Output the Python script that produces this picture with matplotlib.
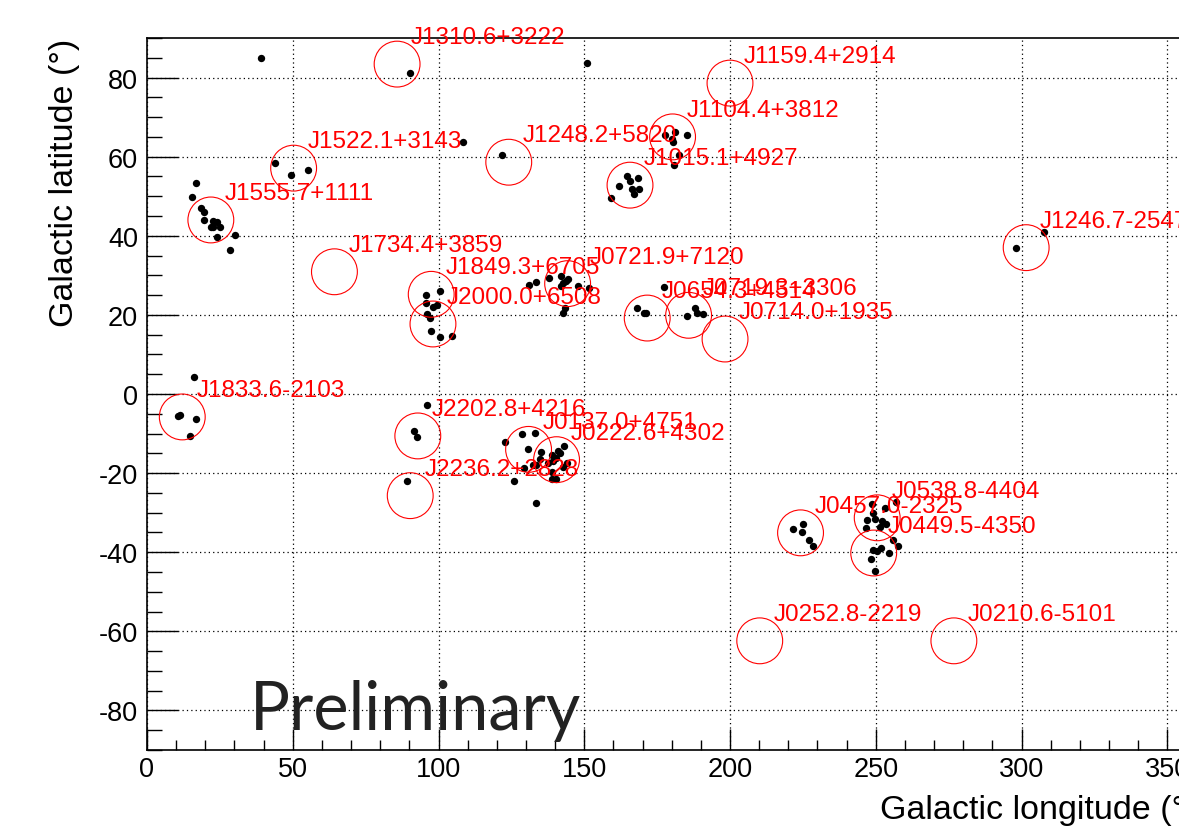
import matplotlib
matplotlib.use("Agg")
import matplotlib.pyplot as plt
from matplotlib.ticker import MultipleLocator

# source positions (galactic longitude, latitude in degrees)
src_names = ["J1310.6+3222", "J1159.4+2914", "J1104.4+3812", "J1522.1+3143",
             "J1248.2+5820", "J1015.1+4927", "J1555.7+1111", "J1246.7-2547",
             "J1734.4+3859", "J1849.3+6705", "J0721.9+7120", "J2000.0+6508",
             "J0654.3+4514", "J0719.3+3306", "J0714.0+1935", "J1833.6-2103",
             "J2202.8+4216", "J0137.0+4751", "J0222.6+4302", "J2236.2+2828",
             "J0538.8-4404", "J0457.0-2325", "J0449.5-4350", "J0252.8-2219",
             "J0210.6-5101"]
src_lon = [85.8, 200.0, 180.3, 50.3, 124.1, 165.7, 21.9, 301.6,
           64.3, 97.5, 144.3, 98.1, 171.6, 185.8, 198.3, 12.1,
           92.9, 130.9, 140.5, 90.3, 250.5, 224.2, 249.3, 210.2, 276.8]
src_lat = [83.4, 78.6, 65.0, 57.1, 58.6, 52.8, 44.0, 37.0,
           30.9, 25.2, 27.9, 17.7, 19.2, 19.9, 13.9, -5.8,
           -10.6, -14.0, -16.6, -25.7, -31.3, -35.1, -40.2, -62.4, -62.4]

# extra label shifts (deg) where the label sits further from its circle
label_nudge = {"J0721.9+7120": (2.7, 0.0)}

# events
dot_lon = [39.1, 90.2, 150.8, 108.3, 121.7, 43.9, 49.4, 55.3,
           16.7, 15.4, 18.4, 19.7, 19.7, 22.5, 23.9, 21.8, 22.7, 25.0, 23.9, 30.2, 28.5,
           95.7, 100.5, 95.7, 98.2, 99.4, 95.9, 97.1, 97.4, 100.5, 104.5,
           131.0, 133.6, 137.8, 142.1, 144.5, 143.6, 142.8, 141.9, 148.0, 151.6, 143.5, 142.8,
           177.2, 168.2, 170.6, 171.2, 185.1, 187.9, 188.6, 190.6,
           177.7, 181.1, 180.0, 180.6, 185.2, 182.5, 180.8,
           164.8, 168.6, 165.7, 162.0, 166.3, 168.7, 167.0, 159.1,
           298.1, 307.8,
           16.2, 10.7, 11.4, 16.7, 14.8,
           95.9, 91.6, 92.5, 89.1,
           122.8, 128.5, 133.1, 130.8, 135.2, 134.8, 138.8, 140.9, 141.7, 140.2, 139.4,
           143.2, 144.0, 142.8, 137.5, 132.3, 133.6, 129.3, 138.8, 138.8, 140.2, 126.0, 133.4,
           221.5, 225.2, 224.6, 227.0, 228.6,
           248.6, 253.2, 256.9, 248.9, 249.7, 247.1, 252.0, 253.5, 251.5, 246.7,
           256.0, 257.7, 249.2, 250.3, 251.7, 254.6, 248.4, 249.7]
dot_lat = [84.9, 81.1, 83.8, 63.6, 60.3, 58.5, 55.3, 56.7,
           53.4, 49.9, 46.9, 46.1, 44.0, 43.8, 43.6, 42.1, 42.3, 42.3, 39.8, 40.1, 36.5,
           25.1, 26.0, 23.1, 22.0, 22.4, 20.3, 19.1, 16.0, 14.5, 14.6,
           27.5, 28.2, 29.3, 29.9, 29.1, 28.5, 28.0, 27.2, 27.2, 26.7, 21.7, 20.5,
           27.0, 21.7, 20.5, 20.4, 19.6, 21.7, 20.6, 20.3,
           65.5, 66.3, 64.5, 63.6, 65.6, 60.3, 58.0,
           55.0, 54.5, 53.8, 52.5, 51.8, 51.8, 50.6, 49.5,
           37.0, 41.0,
           4.2, -5.6, -5.4, -6.2, -10.6,
           -2.8, -9.4, -10.8, -22.1,
           -12.1, -10.2, -9.8, -13.9, -14.6, -16.4, -15.4, -14.3, -14.9, -16.3, -16.9,
           -13.1, -17.4, -18.5, -17.4, -18.0, -18.0, -18.7, -19.8, -21.5, -21.5, -21.9, -27.6,
           -34.2, -32.9, -35.0, -36.9, -38.4,
           -27.8, -28.7, -27.2, -30.1, -31.5, -31.8, -32.0, -32.9, -33.5, -33.9,
           -36.8, -38.4, -39.4, -39.6, -39.0, -40.2, -41.6, -44.7]

plt.rcParams["font.family"] = ["Liberation Sans", "DejaVu Sans"]
plt.rcParams["axes.unicode_minus"] = False

W, H = 1179, 828
fig = plt.figure(figsize=(W / 100, H / 100), dpi=100)
ax = fig.add_axes([147 / W, 77 / H, 1049.4 / W, 712 / H])
ax.set_xlim(0, 360)
ax.set_ylim(-90, 90)

ax.xaxis.set_major_locator(MultipleLocator(50))
ax.xaxis.set_minor_locator(MultipleLocator(10))
ax.yaxis.set_major_locator(MultipleLocator(20))
ax.yaxis.set_minor_locator(MultipleLocator(5))

ax.tick_params(axis="x", which="both", direction="in", top=False, width=1,
               labelsize=19.5, pad=4)
ax.tick_params(axis="x", which="major", length=15)
ax.tick_params(axis="x", which="minor", length=7.5)
ax.tick_params(axis="y", which="both", direction="in", right=False, width=1,
               labelsize=19.5, pad=6.5)
ax.tick_params(axis="y", which="major", length=22)
ax.tick_params(axis="y", which="minor", length=11)
for s in ax.spines.values():
    s.set_linewidth(1.2)

ax.set_axisbelow(True)
ax.grid(True, which="major", color="black", linestyle=(0, (1, 2.5)), linewidth=0.9)

ax.plot(dot_lon, dot_lat, "o", color="black", ms=5.3, mew=0, zorder=3)
ax.scatter(src_lon, src_lat, s=33 ** 2, facecolors="none", edgecolors="red",
           linewidths=0.8, zorder=4)

for name, lo, la in zip(src_names, src_lon, src_lat):
    nx, ny = label_nudge.get(name, (0.0, 0.0))
    ax.text(lo + 4.8 + nx, la + 5.3 + ny, name, color="red", fontsize=17.5,
            ha="left", va="baseline", zorder=5)

ax.set_xlabel("Galactic longitude (°)", loc="right", fontsize=24.5)
ax.xaxis.set_label_coords(1.0, -44 / 712)
ax.set_ylabel("Galactic latitude (°)", loc="top", fontsize=24.5)
ax.yaxis.set_label_coords(-(147 - 80) / 1049.4, 1.0)

fig.text(250 / W, (H - 730) / H, "Preliminary", fontsize=48, family="Lato",
         color="#222222", va="baseline")

fig.savefig("out.png", dpi=100)
